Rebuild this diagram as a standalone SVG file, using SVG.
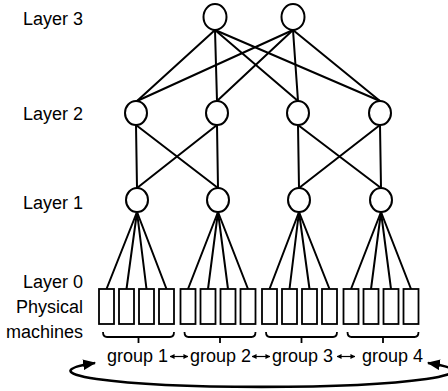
<svg xmlns="http://www.w3.org/2000/svg" width="448" height="391" viewBox="0 0 448 391">
  <style>
    .lbl { font-family: "Liberation Sans", Arial, Helvetica, sans-serif; font-size: 18px; fill: #000; }
    .node { fill: #fff; stroke: #000; stroke-width: 2; }
    .pm { fill: #fff; stroke: #000; stroke-width: 1.8; }
    .edge { stroke: #000; stroke-width: 2; fill: none; stroke-linecap: round; }
    .brace { stroke: #000; stroke-width: 1.8; fill: none; }
    .ring { stroke: #000; stroke-width: 2.6; fill: none; }
    .swap { stroke: #000; stroke-width: 1.2; fill: none; }
  </style>
  <defs>
    <marker id="head" viewBox="0 0 12 10" refX="11" refY="5" markerWidth="13" markerHeight="11" markerUnits="userSpaceOnUse" orient="auto-start-reverse">
      <path d="M0,0 L12,5 L0,10 Z" fill="#000"/>
    </marker>
    <marker id="tip" viewBox="0 0 6 6" refX="5.5" refY="3" markerWidth="5" markerHeight="5" markerUnits="userSpaceOnUse" orient="auto-start-reverse">
      <path d="M0,0 L6,3 L0,6 Z" fill="#000"/>
    </marker>
  </defs>

  <rect width="448" height="391" fill="#fff"/>

  <!-- layer captions -->
  <g id="captions">
    <text class="lbl" x="23" y="25">Layer 3</text>
    <text class="lbl" x="23" y="120">Layer 2</text>
    <text class="lbl" x="23" y="209">Layer 1</text>
    <text class="lbl" x="83" y="288" text-anchor="end">Layer 0</text>
    <text class="lbl" x="83" y="313" text-anchor="end">Physical</text>
    <text class="lbl" x="83" y="338" text-anchor="end">machines</text>
  </g>

  <!-- links between layers -->
  <g id="connectors" class="edge">
    <!-- layer 3 to layer 2 -->
    <line x1="215" y1="30" x2="137" y2="101"/>
    <line x1="215" y1="30" x2="217" y2="101"/>
    <line x1="215" y1="30" x2="298" y2="101"/>
    <line x1="215" y1="30" x2="380" y2="101"/>
    <line x1="293" y1="30" x2="137" y2="101"/>
    <line x1="293" y1="30" x2="217" y2="101"/>
    <line x1="293" y1="30" x2="298" y2="101"/>
    <line x1="293" y1="30" x2="380" y2="101"/>
    <!-- layer 2 to layer 1 -->
    <line x1="136" y1="125" x2="137" y2="188"/>
    <line x1="136" y1="125" x2="218" y2="188"/>
    <line x1="217" y1="125" x2="137" y2="188"/>
    <line x1="217" y1="125" x2="218" y2="188"/>
    <line x1="298" y1="125" x2="299" y2="188"/>
    <line x1="298" y1="125" x2="381" y2="188"/>
    <line x1="380" y1="125" x2="299" y2="188"/>
    <line x1="380" y1="125" x2="381" y2="188"/>
    <!-- layer 1 to machines -->
    <line x1="137" y1="212" x2="106.5" y2="289"/>
    <line x1="137" y1="212" x2="126.5" y2="289"/>
    <line x1="137" y1="212" x2="146.5" y2="289"/>
    <line x1="137" y1="212" x2="166.5" y2="289"/>
    <line x1="218" y1="212" x2="188" y2="289"/>
    <line x1="218" y1="212" x2="208" y2="289"/>
    <line x1="218" y1="212" x2="228" y2="289"/>
    <line x1="218" y1="212" x2="248" y2="289"/>
    <line x1="299" y1="212" x2="269.5" y2="289"/>
    <line x1="299" y1="212" x2="289.5" y2="289"/>
    <line x1="299" y1="212" x2="309.5" y2="289"/>
    <line x1="299" y1="212" x2="329.5" y2="289"/>
    <line x1="381" y1="212" x2="351" y2="289"/>
    <line x1="381" y1="212" x2="371" y2="289"/>
    <line x1="381" y1="212" x2="391" y2="289"/>
    <line x1="381" y1="212" x2="411" y2="289"/>
  </g>

  <!-- switches -->
  <g id="l3-a"><ellipse class="node" cx="215" cy="17" rx="11.5" ry="13"/></g>
  <g id="l3-b"><ellipse class="node" cx="293" cy="17" rx="11.5" ry="13"/></g>
  <g id="l2-a"><ellipse class="node" cx="136" cy="113" rx="11" ry="12"/></g>
  <g id="l2-b"><ellipse class="node" cx="217" cy="113" rx="11" ry="12"/></g>
  <g id="l2-c"><ellipse class="node" cx="298" cy="113" rx="11" ry="12"/></g>
  <g id="l2-d"><ellipse class="node" cx="380" cy="113" rx="11" ry="12"/></g>
  <g id="l1-a"><ellipse class="node" cx="137" cy="200" rx="11" ry="12"/></g>
  <g id="l1-b"><ellipse class="node" cx="218" cy="200" rx="11" ry="12"/></g>
  <g id="l1-c"><ellipse class="node" cx="299" cy="200" rx="11" ry="12"/></g>
  <g id="l1-d"><ellipse class="node" cx="381" cy="200" rx="11" ry="12"/></g>

  <!-- physical machines, four per group -->
  <g id="group-1">
    <rect class="pm" x="99" y="289" width="15" height="35"/>
    <rect class="pm" x="119" y="289" width="15" height="35"/>
    <rect class="pm" x="139" y="289" width="15" height="35"/>
    <rect class="pm" x="159" y="289" width="15" height="35"/>
  </g>
  <g id="group-2">
    <rect class="pm" x="180.5" y="289" width="15" height="35"/>
    <rect class="pm" x="200.5" y="289" width="15" height="35"/>
    <rect class="pm" x="220.5" y="289" width="15" height="35"/>
    <rect class="pm" x="240.5" y="289" width="15" height="35"/>
  </g>
  <g id="group-3">
    <rect class="pm" x="262" y="289" width="15" height="35"/>
    <rect class="pm" x="282" y="289" width="15" height="35"/>
    <rect class="pm" x="302" y="289" width="15" height="35"/>
    <rect class="pm" x="322" y="289" width="15" height="35"/>
  </g>
  <g id="group-4">
    <rect class="pm" x="343.5" y="289" width="15" height="35"/>
    <rect class="pm" x="363.5" y="289" width="15" height="35"/>
    <rect class="pm" x="383.5" y="289" width="15" height="35"/>
    <rect class="pm" x="403.5" y="289" width="15" height="35"/>
  </g>

  <!-- braces under each group -->
  <g id="braces" class="brace">
    <path d="M103,332 Q103,337 107,337 L170,337 Q174,337 174,332 M138.5,337 V343"/>
    <path d="M184.5,332 Q184.5,337 188.5,337 L251.5,337 Q255.5,337 255.5,332 M220,337 V343"/>
    <path d="M266,332 Q266,337 270,337 L333,337 Q337,337 337,332 M301.5,337 V343"/>
    <path d="M347.5,332 Q347.5,337 351.5,337 L414.5,337 Q418.5,337 418.5,332 M383,337 V343"/>
  </g>

  <!-- group labels -->
  <g id="group-labels">
    <text class="lbl" x="107" y="362">group 1</text>
    <text class="lbl" x="190" y="362">group 2</text>
    <text class="lbl" x="272" y="362">group 3</text>
    <text class="lbl" x="362" y="362">group 4</text>
  </g>

  <!-- exchange between neighbouring groups -->
  <g id="swaps" class="swap">
    <line x1="170" y1="356.5" x2="188" y2="356.5" marker-start="url(#tip)" marker-end="url(#tip)"/>
    <line x1="252" y1="356.5" x2="270" y2="356.5" marker-start="url(#tip)" marker-end="url(#tip)"/>
    <line x1="337" y1="356.5" x2="355" y2="356.5" marker-start="url(#tip)" marker-end="url(#tip)"/>
  </g>

  <!-- wrap-around link from group 4 back to group 1 -->
  <g id="wrap-link">
    <path class="ring" d="M95,363 A191 16 0 1 0 428,363" marker-start="url(#head)" marker-end="url(#head)"/>
  </g>
</svg>
